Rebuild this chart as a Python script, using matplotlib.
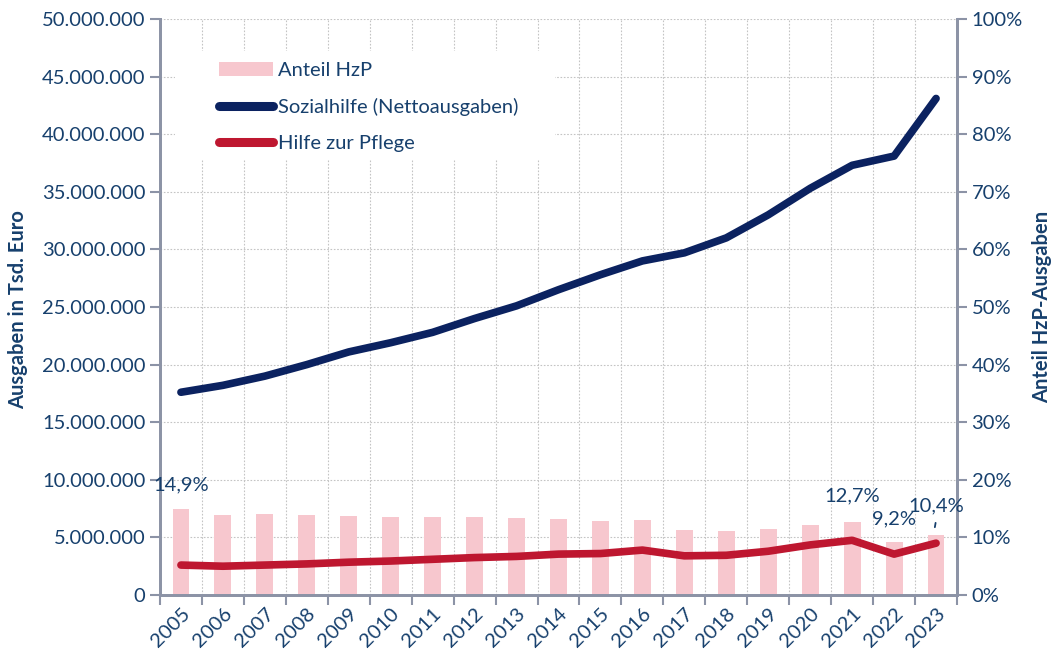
import matplotlib.pyplot as plt
import matplotlib.ticker as mticker
from matplotlib.patches import Patch, Rectangle
from matplotlib.lines import Line2D

plt.rcParams['font.family'] = ['Lato', 'DejaVu Sans']

jahre = list(range(2005, 2024))
sozialhilfe = [17.6, 18.2, 19.0, 20.0, 21.1, 21.9, 22.8, 24.0, 25.1, 26.5,
               27.8, 29.0, 29.7, 31.0, 33.0, 35.3, 37.3, 38.1, 43.1]
pflege = [2.6, 2.5, 2.6, 2.7, 2.85, 2.95, 3.1, 3.25, 3.35, 3.55,
          3.6, 3.9, 3.4, 3.45, 3.8, 4.35, 4.75, 3.55, 4.5]
anteil = [14.9, 13.9, 14.1, 13.9, 13.7, 13.5, 13.6, 13.5, 13.3, 13.2,
          12.8, 13.0, 11.3, 11.1, 11.5, 12.2, 12.7, 9.2, 10.4]
beschriftet = {0: '14,9%', 16: '12,7%', 17: '9,2%', 18: '10,4%'}

# Mio -> Tsd. Euro
sozialhilfe = [v * 1e6 for v in sozialhilfe]
pflege = [v * 1e6 for v in pflege]

blau = '#0B2260'
rot = '#BE1730'
rosa = '#F7C7CE'
textfarbe = '#17406D'
achse = '#8C93A6'
gitter = '#C4C4C4'
fs = 14.5

fig = plt.figure(figsize=(10.51, 6.52), dpi=100)
ax2 = fig.add_axes([0.1522, 0.0874, 0.7584, 0.8835])
ax = ax2.twinx()
ax.yaxis.tick_left()
ax.yaxis.set_label_position('left')
ax2.yaxis.tick_right()
ax2.yaxis.set_label_position('right')
ax.set_zorder(ax2.get_zorder() + 1)
ax.patch.set_visible(False)

x = list(range(len(jahre)))

# Balken: Anteil HzP (rechte Achse)
ax2.bar(x, anteil, width=0.4, color=rosa, zorder=2)
ax2.set_ylim(0, 100)
ax2.yaxis.set_major_locator(mticker.MultipleLocator(10))
ax2.yaxis.set_major_formatter(mticker.FuncFormatter(lambda v, p: f'{v:.0f}%'))
ax2.set_xlim(-0.5, len(jahre) - 0.5)
ax2.set_xticks([i - 0.5 for i in range(len(jahre) + 1)])
ax2.set_xticklabels([])
ax2.set_xticks(x, minor=True)
ax2.set_xticklabels([str(j) for j in jahre], minor=True, rotation=45,
                    ha='right', va='top', rotation_mode='anchor')
ax2.tick_params(axis='x', which='major', length=7, width=1.5, color=achse)
ax2.tick_params(axis='x', which='minor', length=0, pad=7,
                labelsize=fs, labelcolor=textfarbe)
ax2.tick_params(axis='y', length=7, width=1.5, color=achse,
                labelsize=fs, labelcolor=textfarbe)
ax2.grid(True, which='major', axis='both', color=gitter,
         linestyle=(0, (1.5, 1.5)), linewidth=0.8)
ax2.set_axisbelow(True)
ax2.set_ylabel('Anteil HzP-Ausgaben', fontsize=fs, fontweight='bold',
               color=textfarbe, rotation=90)
ax2.yaxis.label.set_verticalalignment('center')
ax2.yaxis.set_label_coords(1.1066, 0.5)

# weisser Hintergrund der Legende (verdeckt Gitter)
ax2.add_patch(Rectangle((0.019, 0.755), 0.477, 0.19, transform=ax2.transAxes,
                        facecolor='white', edgecolor='none', zorder=1))

# Linien (linke Achse)
ax.plot(x, sozialhilfe, color=blau, linewidth=5.5, solid_capstyle='round',
        solid_joinstyle='round', zorder=3)
ax.plot(x, pflege, color=rot, linewidth=5.5, solid_capstyle='round',
        solid_joinstyle='round', zorder=3)
ax.set_ylim(0, 50e6)
ax.yaxis.set_major_locator(mticker.MultipleLocator(5e6))
ax.yaxis.set_major_formatter(mticker.FuncFormatter(
    lambda v, p: f'{v:,.0f}'.replace(',', '.')))
ax.tick_params(axis='y', length=7, width=1.5, color=achse,
               labelsize=fs, labelcolor=textfarbe)
ax.set_ylabel('Ausgaben in Tsd. Euro', fontsize=fs, fontweight='bold',
              color=textfarbe)
ax.yaxis.label.set_verticalalignment('center')
ax.yaxis.set_label_coords(-0.178, 0.495)

for a in (ax, ax2):
    a.spines['top'].set_visible(False)
    for s in ('left', 'right', 'bottom'):
        a.spines[s].set_color(achse)
        a.spines[s].set_linewidth(2)

# Datenbeschriftungen (auf der oberen Achse, damit sie ueber den Achsen liegen)
versatz = {0: 24, 16: 26, 17: 23, 18: 29}
for i, txt in beschriftet.items():
    ax.annotate(txt, (x[i], anteil[i]), xycoords=ax2.transData,
                xytext=(0, versatz[i]), textcoords='offset pixels',
                ha='center', va='center', fontsize=fs, color=textfarbe,
                zorder=6)
ax.annotate('', xy=(x[18] - 0.04, anteil[18] + 0.9), xycoords=ax2.transData,
            xytext=(x[18], anteil[18] + 2.6), textcoords=ax2.transData,
            arrowprops=dict(arrowstyle='-', color=textfarbe, lw=1.3))

# Legende
handles = [Patch(facecolor=rosa, edgecolor='none'),
           Line2D([], [], color=blau, linewidth=6.5, solid_capstyle='round'),
           Line2D([], [], color=rot, linewidth=6.5, solid_capstyle='round')]
labels = ['Anteil HzP', 'Sozialhilfe (Nettoausgaben)', 'Hilfe zur Pflege']
leg = ax.legend(handles, labels, loc='upper left',
                bbox_to_anchor=(0.074, 0.926), borderaxespad=0, borderpad=0,
                frameon=False, fontsize=fs, labelcolor=textfarbe,
                handlelength=2.7, handletextpad=0.25, labelspacing=0.95)

fig.savefig('out.png', dpi=100)
